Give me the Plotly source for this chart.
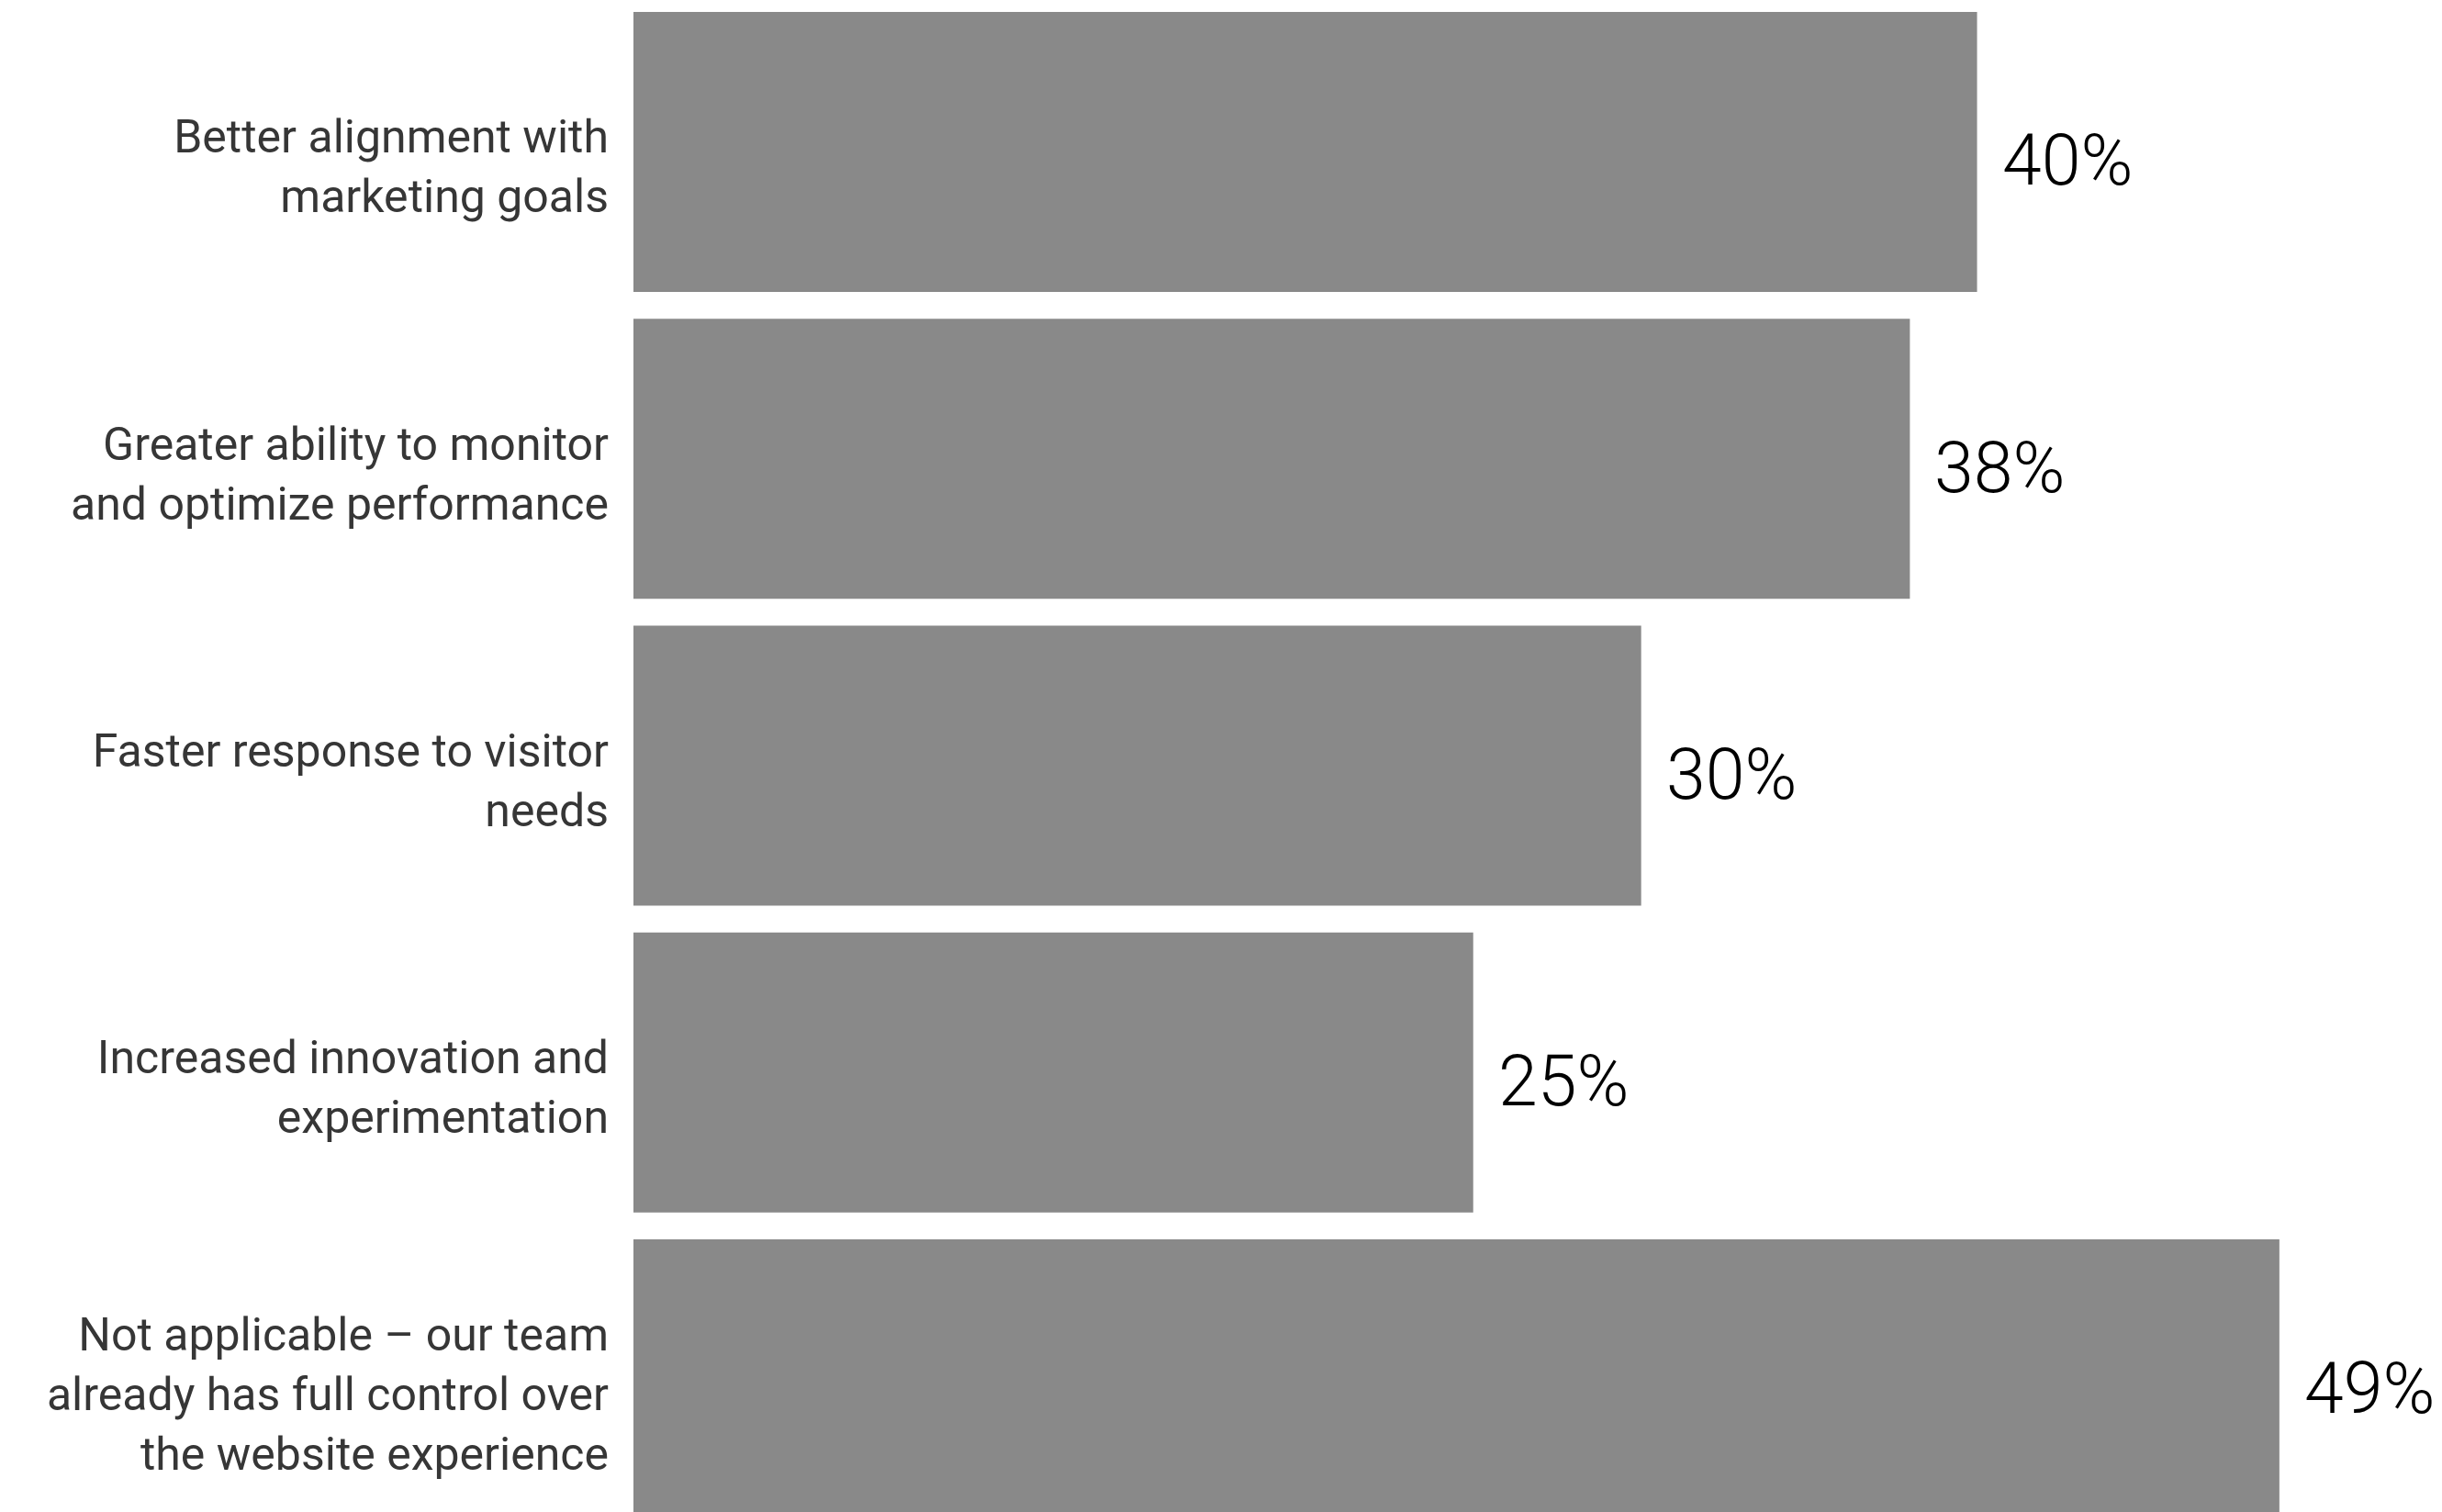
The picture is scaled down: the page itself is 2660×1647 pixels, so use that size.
import plotly.graph_objects as go

categories = [
    "Better alignment with<br>marketing goals",
    "Greater ability to monitor<br>and optimize performance",
    "Faster response to visitor<br>needs",
    "Increased innovation and<br>experimentation",
    "Not applicable – our team<br>already has full control over<br>the website experience",
]
values = [40, 38, 30, 25, 49]
value_labels = ["40%", "38%", "30%", "25%", "49%"]

BAR_COLOR = "#898989"

fig = go.Figure()
fig.add_trace(go.Bar(
    x=values,
    y=categories,
    orientation="h",
    marker=dict(color=BAR_COLOR, line=dict(width=0)),
    hoverinfo="skip",
))

for v, c, t in zip(values, categories, value_labels):
    fig.add_annotation(
        x=v, y=c, text=t, showarrow=False,
        xanchor="left", yanchor="middle", xshift=25, yshift=-10,
        font=dict(family="Roboto", size=77, color="#000000", weight=300),
    )

fig.update_layout(
    width=2660, height=1647,
    margin=dict(l=682, r=0, t=0, b=0),
    paper_bgcolor="white", plot_bgcolor="white",
    bargap=0.0875,
    showlegend=False,
    xaxis=dict(range=[0, 54.06], visible=False, fixedrange=True),
    yaxis=dict(
        range=[4.456, -0.471],
        showgrid=False, zeroline=False, showline=False,
        ticks="", ticklabelstandoff=26, ticklabelshift=-16,
        tickfont=dict(family="Roboto", size=50, color="#363636"),
    ),
    font=dict(family="Roboto"),
)

fig.write_html("out.html")
